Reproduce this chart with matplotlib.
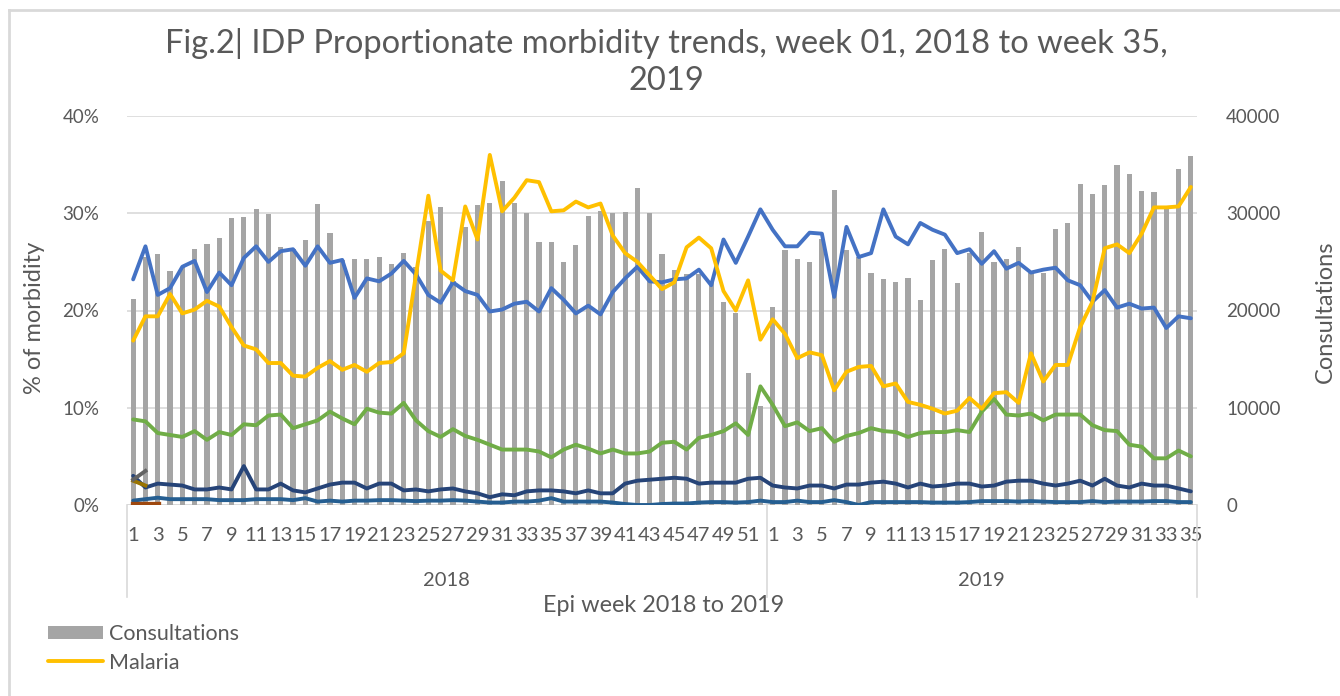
import matplotlib
matplotlib.use("Agg")
import matplotlib.pyplot as plt
from matplotlib.lines import Line2D
import numpy as np

plt.rcParams['font.family'] = ['Lato', 'DejaVu Sans']

# ---------------- data ----------------
weeks_2018 = list(range(1, 53))
weeks_2019 = list(range(1, 36))
years = ["2018", "2019"]

consultations = [21150, 25500, 25810, 24030, 24500, 26290, 26840, 27460, 29480, 29620,
                 30480, 29960, 26570, 26300, 27200, 31000, 28000, 25200, 25300, 25300,
                 25540, 24780, 25950, 24500, 29240, 30680, 23000, 28620, 30850, 31020,
                 33350, 31020, 29990, 27080, 27080, 24960, 26740, 29720, 30270, 29990,
                 30170, 32570, 29990, 25810, 24170, 23760, 23800, 22900, 20910, 19710,
                 13540, 10180,
                 20350, 26250, 25280, 24940, 27400, 32390, 26250, 25500, 23890, 23240,
                 22970, 23380, 21080, 25190, 26290, 22860, 25950, 28040, 25020, 25260,
                 26560, 23820, 23820, 28350, 28970, 33010, 31980, 32900, 34950, 34040,
                 32330, 32150, 30500, 34550, 35930]

malaria = [16.9, 19.4, 19.4, 21.7, 19.7, 20.1, 21.0, 20.4, 18.3, 16.4,
           16.0, 14.6, 14.6, 13.3, 13.2, 14.1, 14.8, 13.9, 14.4, 13.7,
           14.6, 14.7, 15.6, 23.7, 31.8, 24.1, 23.1, 30.7, 27.3, 36.0,
           30.2, 31.6, 33.4, 33.2, 30.2, 30.3, 31.2, 30.6, 31.0, 27.7,
           25.9, 25.0, 23.6, 22.2, 22.9, 26.5, 27.5, 26.4, 22.0, 20.0,
           23.1, 17.0,
           19.1, 17.6, 15.1, 15.7, 15.4, 11.8, 13.7, 14.2, 14.3, 12.2,
           12.5, 10.6, 10.3, 9.9, 9.4, 9.7, 11.0, 9.9, 11.5, 11.6,
           10.5, 15.6, 12.7, 14.4, 14.4, 18.3, 20.9, 26.4, 26.8, 25.9,
           27.9, 30.6, 30.6, 30.7, 32.7]

ari = [23.2, 26.6, 21.6, 22.3, 24.5, 25.1, 21.9, 23.9, 22.6, 25.4,
       26.6, 25.0, 26.1, 26.3, 24.6, 26.6, 24.9, 25.2, 21.3, 23.3,
       23.0, 23.8, 25.1, 23.7, 21.6, 20.8, 22.9, 22.0, 21.6, 19.9,
       20.1, 20.7, 20.9, 19.9, 22.3, 21.1, 19.7, 20.5, 19.6, 21.9,
       23.3, 24.5, 23.0, 22.9, 23.2, 23.3, 24.2, 22.6, 27.3, 24.9,
       27.6, 30.4,
       28.3, 26.6, 26.6, 28.0, 27.9, 21.4, 28.6, 25.5, 25.9, 30.4,
       27.6, 26.8, 29.0, 28.3, 27.8, 25.9, 26.3, 24.8, 26.1, 24.3,
       24.9, 23.9, 24.2, 24.4, 23.1, 22.6, 20.9, 22.1, 20.3, 20.7,
       20.2, 20.3, 18.2, 19.4, 19.2]

diarrhoea = [8.8, 8.6, 7.4, 7.2, 7.0, 7.6, 6.7, 7.5, 7.2, 8.3,
             8.2, 9.2, 9.3, 7.9, 8.3, 8.7, 9.6, 8.9, 8.3, 9.9,
             9.5, 9.4, 10.5, 8.7, 7.6, 7.0, 7.8, 7.1, 6.7, 6.2,
             5.7, 5.7, 5.7, 5.5, 4.9, 5.7, 6.2, 5.8, 5.3, 5.7,
             5.3, 5.3, 5.5, 6.4, 6.5, 5.7, 6.9, 7.2, 7.6, 8.4,
             7.2, 12.2,
             10.3, 8.1, 8.5, 7.6, 7.9, 6.5, 7.1, 7.4, 7.9, 7.6,
             7.5, 7.0, 7.4, 7.5, 7.5, 7.7, 7.5, 9.6, 10.9, 9.3,
             9.2, 9.4, 8.7, 9.3, 9.3, 9.3, 8.2, 7.7, 7.6, 6.2,
             6.0, 4.8, 4.8, 5.6, 5.0]

series_navy = [3.0, 1.8, 2.2, 2.1, 2.0, 1.6, 1.6, 1.8, 1.6, 4.0,
               1.6, 1.6, 2.2, 1.5, 1.3, 1.7, 2.1, 2.3, 2.3, 1.7,
               2.2, 2.2, 1.5, 1.6, 1.4, 1.6, 1.7, 1.4, 1.2, 0.8,
               1.1, 1.0, 1.4, 1.5, 1.5, 1.4, 1.2, 1.5, 1.2, 1.2,
               2.2, 2.5, 2.6, 2.7, 2.8, 2.7, 2.2, 2.3, 2.3, 2.3,
               2.7, 2.8,
               2.0, 1.8, 1.7, 2.0, 2.0, 1.7, 2.1, 2.1, 2.3, 2.4,
               2.2, 1.8, 2.2, 1.9, 2.0, 2.2, 2.2, 1.9, 2.0, 2.4,
               2.5, 2.5, 2.2, 2.0, 2.2, 2.5, 2.0, 2.7, 2.0, 1.8,
               2.2, 2.0, 2.0, 1.7, 1.4]

series_steel = [0.45, 0.6, 0.75, 0.6, 0.6, 0.6, 0.6, 0.5, 0.5, 0.5,
                0.6, 0.6, 0.6, 0.5, 0.7, 0.35, 0.45, 0.35, 0.45, 0.45,
                0.5, 0.5, 0.45, 0.4, 0.45, 0.45, 0.5, 0.45, 0.35, 0.25,
                0.25, 0.35, 0.35, 0.45, 0.7, 0.35, 0.35, 0.35, 0.35, 0.25,
                0.1, 0.0, 0.0, 0.1, 0.15, 0.15, 0.25, 0.3, 0.3, 0.25,
                0.3, 0.45,
                0.3, 0.3, 0.45, 0.3, 0.3, 0.5, 0.3, 0.0, 0.3, 0.3,
                0.3, 0.3, 0.3, 0.25, 0.25, 0.25, 0.3, 0.4, 0.4, 0.4,
                0.35, 0.4, 0.35, 0.3, 0.3, 0.3, 0.4, 0.3, 0.35, 0.35,
                0.35, 0.4, 0.4, 0.3, 0.3]

series_grey = [2.6, 3.5]
series_gold = [2.5, 2.0]
series_rust = [0.1, 0.1, 0.1]

# ---------------- figure ----------------
W, H = 1340, 696
fig = plt.figure(figsize=(W / 100, H / 100), dpi=100)
L, R, T, B = 127, 1197, 116, 505
ax2 = fig.add_axes([L / W, 1 - B / H, (R - L) / W, (B - T) / H])
ax = ax2.twinx()
ax.set_zorder(ax2.get_zorder() + 1)
ax.patch.set_visible(False)

n = len(consultations)
x = np.arange(n)
txt = '#595959'
grid = '#D9D9D9'

bars = ax2.bar(x, consultations, width=0.42, color='#A5A5A5', label='Consultations', zorder=2)
ax2.set_ylim(0, 40000)
ax2.set_yticks(np.arange(0, 40001, 10000))
ax2.yaxis.tick_right()
ax2.yaxis.set_label_position('right')
ax2.grid(axis='y', color=grid, lw=1.2, zorder=0)
ax2.set_axisbelow(True)

lw = 2.8
kw = dict(lw=lw, solid_capstyle='round', solid_joinstyle='round')
ax.plot(x, series_steel, color='#255E91', **kw)
ax.plot(x, series_navy, color='#264478', **kw)
ax.plot(np.arange(len(series_rust)), series_rust, color='#9E480E', lw=lw + 1)
ax.plot(np.arange(len(series_gold)), series_gold, color='#997300', lw=lw)
ax.plot(np.arange(len(series_grey)), series_grey, color='#636363', lw=lw)
ax.plot(x, diarrhoea, color='#70AD47', **kw)
ax.plot(x, ari, color='#4472C4', **kw)
mal_line, = ax.plot(x, malaria, color='#FFC000', label='Malaria', **kw)

ax.set_ylim(0, 40)
ax.set_xlim(-0.5, n - 0.5)
ax2.set_xlim(-0.5, n - 0.5)

ax.yaxis.tick_left()
ax.yaxis.set_label_position('left')
ax.set_yticks([0, 10, 20, 30, 40])
ax.set_yticklabels(['0%', '10%', '20%', '30%', '40%'])

for a in (ax, ax2):
    for s in a.spines.values():
        s.set_visible(False)
    a.tick_params(axis='y', length=0, labelsize=13.5, labelcolor=txt)

ax.tick_params(axis='y', pad=20)
ax2.tick_params(axis='y', pad=21)

# week tick labels
tick_pos = []
tick_lab = []
for i, w in enumerate(weeks_2018):
    if w % 2 == 1:
        tick_pos.append(i)
        tick_lab.append(str(w))
for j, w in enumerate(weeks_2019):
    if w % 2 == 1:
        tick_pos.append(len(weeks_2018) + j)
        tick_lab.append(str(w))
ax2.set_xticks(tick_pos)
ax2.set_xticklabels(tick_lab)
ax2.tick_params(axis='x', length=0, labelsize=14.5, labelcolor=txt, pad=16)
ax.tick_params(axis='x', length=0, labelbottom=False)

# category separators and year labels
tr = ax2.get_xaxis_transform()
ybot = -(597 - B) / (B - T)
n18 = len(weeks_2018)
for xs in (-0.5, n18 - 0.5, n - 0.5):
    ax2.plot([xs, xs], [0, ybot], transform=tr, color=grid, lw=1.2, clip_on=False)
yyear = -(580 - B) / (B - T)
ax2.text((n18 - 1) / 2, yyear, years[0], transform=tr, ha='center', va='center',
         fontsize=14.5, color=txt)
ax2.text(n18 + (len(weeks_2019) - 1) / 2, yyear, years[1], transform=tr, ha='center',
         va='center', fontsize=14.5, color=txt)
ax2.axhline(0, color=grid, lw=1.2, zorder=1)

# axis titles
fig.text(664 / W, 1 - 606 / H, 'Epi week 2018 to 2019', ha='center', va='center',
         fontsize=16.8, color=txt)
fig.text(35 / W, 1 - 318 / H, '% of morbidity', rotation=90, ha='center', va='center',
         fontsize=17, color=txt)
fig.text(1325 / W, 1 - 312 / H, 'Consultations', rotation=90, ha='center', va='center',
         fontsize=17, color=txt)

# title
fig.text(666 / W, 1 - 62 / H,
         'Fig.2| IDP Proportionate morbidity trends, week 01, 2018 to week 35,\n2019',
         ha='center', va='center', fontsize=23.5, color=txt, linespacing=1.28)

# legend
leg = fig.legend(handles=[bars, mal_line], labels=['Consultations', 'Malaria'],
                 loc='upper left', bbox_to_anchor=(48 / W, 1 - 624 / H), frameon=False,
                 fontsize=15.5, handlelength=2.55, handleheight=0.6, handletextpad=0.3,
                 labelspacing=0.4, borderpad=0, borderaxespad=0)
for t in leg.get_texts():
    t.set_color(txt)

# outer frame (top and left edges)
fig.add_artist(Line2D([9 / W, 9 / W], [0, 1 - 10 / H], color=grid, lw=2))
fig.add_artist(Line2D([9 / W, 1], [1 - 10 / H, 1 - 10 / H], color=grid, lw=2))

fig.savefig('out.png', dpi=100)
